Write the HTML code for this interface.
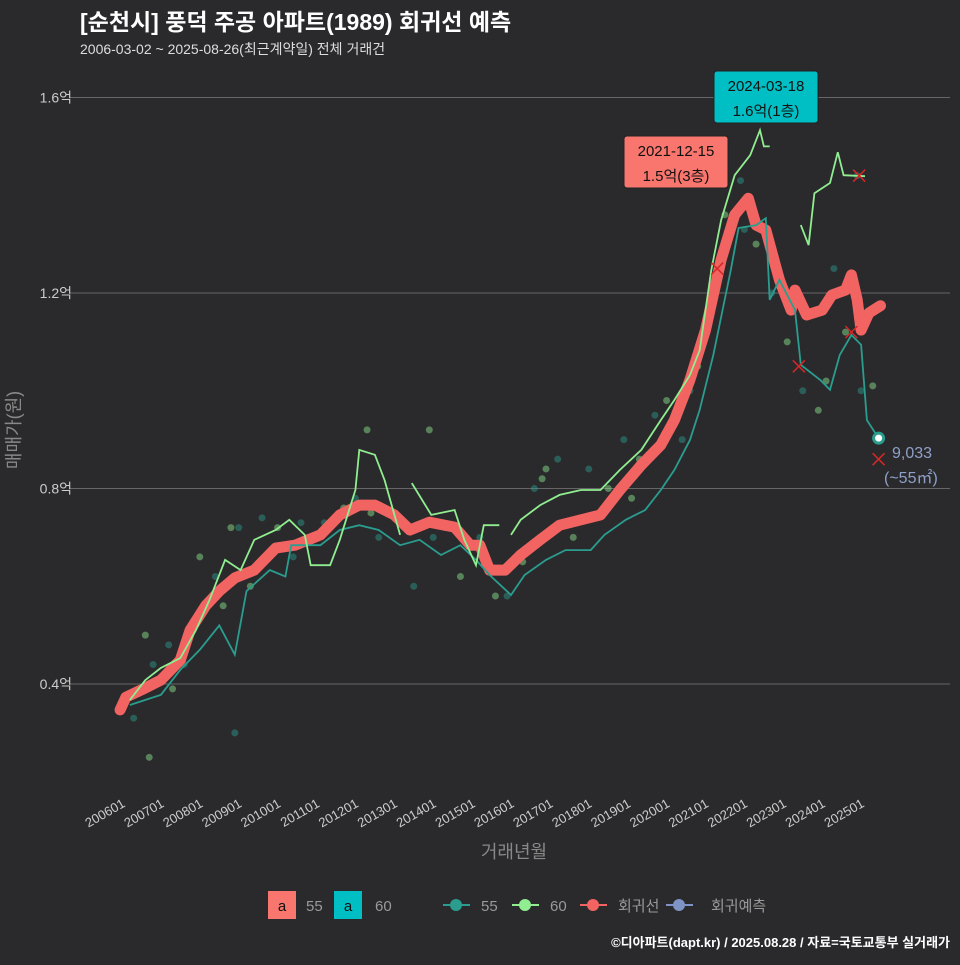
<!DOCTYPE html>
<html><head><meta charset="utf-8">
<style>
body{margin:0;background:#2a2a2c;}
svg text{font-family:"Liberation Sans","Noto Sans CJK KR",sans-serif;}
</style></head>
<body>
<svg id="chart" width="960" height="960" xmlns="http://www.w3.org/2000/svg">
<rect width="960" height="960" fill="#2a2a2c"/>
<text x="80" y="30" fill="#fff" font-size="23" font-weight="bold">[순천시] 풍덕 주공 아파트(1989) 회귀선 예측</text>
<text x="80" y="54" fill="#ddd" font-size="14">2006-03-02 ~ 2025-08-26(최근계약일) 전체 거래건</text>
<g id="grid"></g>
<g id="pts"></g>
<g id="lines"></g>
<g id="marks"></g>
<text transform="translate(20,430) rotate(-90)" text-anchor="middle" fill="#888" font-size="18">매매가(원)</text>
<text x="514" y="858" text-anchor="middle" fill="#888" font-size="18">거래년월</text>
<g>
<rect x="624" y="136" width="104" height="52" rx="3" fill="#f8766d" stroke="#222"/>
<text x="676" y="156" text-anchor="middle" font-size="15" fill="#111">2021-12-15</text>
<text x="676" y="181" text-anchor="middle" font-size="15" fill="#111">1.5억(3층)</text>
</g>
<g>
<rect x="714" y="71" width="104" height="52" rx="3" fill="#00bfc4" stroke="#222"/>
<text x="766" y="91" text-anchor="middle" font-size="15" fill="#111">2024-03-18</text>
<text x="766" y="116" text-anchor="middle" font-size="15" fill="#111">1.6억(1층)</text>
</g>
<text x="892" y="458" fill="#8fa0c8" font-size="16">9,033</text>
<text x="884" y="483" fill="#8fa0c8" font-size="16">(~55㎡)</text>
<g font-size="15">
<rect x="268" y="891" width="28" height="28" fill="#f8766d"/><text x="282" y="911" text-anchor="middle" fill="#111">a</text><text x="306" y="911" fill="#999">55</text>
<rect x="334" y="891" width="28" height="28" fill="#00bfc4"/><text x="348" y="911" text-anchor="middle" fill="#111">a</text><text x="375" y="911" fill="#999">60</text>
<line x1="443" y1="905" x2="470" y2="905" stroke="#2a9d8f" stroke-width="2"/><circle cx="456" cy="905" r="6" fill="#2a9d8f"/><text x="481" y="911" fill="#999">55</text>
<line x1="512" y1="905" x2="539" y2="905" stroke="#90ee90" stroke-width="2"/><circle cx="525" cy="905" r="6" fill="#90ee90"/><text x="550" y="911" fill="#999">60</text>
<line x1="580" y1="905" x2="607" y2="905" stroke="#f26462" stroke-width="2"/><circle cx="593" cy="905" r="6" fill="#f26462"/><text x="618" y="911" fill="#999">회귀선</text>
<line x1="666" y1="905" x2="693" y2="905" stroke="#7f93c7" stroke-width="2"/><circle cx="679" cy="905" r="6" fill="#7f93c7"/><text x="711" y="911" fill="#999">회귀예측</text>
</g>
<text x="950" y="947" text-anchor="end" fill="#fff" font-size="13" font-weight="bold">©디아파트(dapt.kr) / 2025.08.28 / 자료=국토교통부 실거래가</text>
</svg>
<script>
const yTicks=[0.4,0.8,1.2,1.6];
const xTickLabels=["200601","200701","200801","200901","201001","201101","201201","201301","201401","201501","201601","201701","201801","201901","202001","202101","202201","202301","202401","202501"];
const regT=[2005.95,2006.1,2006.5,2007.0,2007.5,2007.75,2008.15,2008.5,2008.9,2009.4,2009.95,2010.45,2011.1,2011.6,2012.1,2012.5,2013.0,2013.4,2013.9,2014.55,2014.95,2015.2,2015.45,2015.85,2016.25,2016.75,2017.25,2017.8,2018.3,2018.8,2019.35,2019.85,2020.2,2020.6,2021.0,2021.4,2021.75,2022.1,2022.3,2022.55,2022.9,2023.2,2023.3,2023.6,2024.0,2024.25,2024.6,2024.75,2024.9,2025.0,2025.2,2025.5];
const regV=[0.347,0.373,0.388,0.408,0.449,0.51,0.56,0.59,0.617,0.633,0.678,0.684,0.705,0.746,0.766,0.766,0.746,0.715,0.731,0.721,0.684,0.684,0.633,0.633,0.664,0.695,0.725,0.736,0.746,0.797,0.848,0.889,0.94,1.022,1.124,1.268,1.36,1.394,1.339,1.329,1.227,1.165,1.206,1.155,1.165,1.196,1.206,1.237,1.186,1.124,1.159,1.174];
const s55T=[2006.2,2007,2007.5,2008,2008.5,2008.9,2009.2,2009.8,2010.2,2010.35,2011.1,2011.6,2012.1,2012.6,2013.15,2013.65,2014.2,2014.7,2015.1,2015.45,2016.0,2016.35,2016.9,2017.4,2018.05,2018.4,2018.95,2019.45,2019.85,2020.2,2020.6,2020.85,2021.2,2021.65,2021.85,2022.3,2022.55,2022.65,2022.9,2023.3,2023.45,2023.95,2024.2,2024.45,2024.75,2025.0,2025.15,2025.45];
const s55V=[0.357,0.378,0.429,0.47,0.52,0.46,0.59,0.633,0.62,0.684,0.684,0.715,0.725,0.715,0.684,0.695,0.664,0.684,0.654,0.623,0.582,0.623,0.654,0.674,0.674,0.705,0.736,0.756,0.797,0.838,0.899,0.961,1.073,1.247,1.333,1.339,1.353,1.186,1.227,1.165,1.053,1.022,1.002,1.073,1.114,1.094,0.94,0.903];
const s60aT=[2006.2,2006.6,2007,2007.5,2007.9,2008.25,2008.65,2009.05,2009.4,2009.95,2010.3,2010.7,2010.85,2011.35,2011.6,2012.0,2012.1,2012.5,2012.75,2013.15];
const s60aV=[0.367,0.408,0.433,0.453,0.51,0.572,0.654,0.633,0.695,0.715,0.736,0.705,0.643,0.643,0.695,0.797,0.879,0.869,0.817,0.705];
const s60bT=[2013.45,2013.95,2014.55,2014.8,2015.1,2015.3,2015.7];
const s60bV=[0.811,0.746,0.756,0.695,0.643,0.725,0.725];
const s60cT=[2016.0,2016.25,2016.75,2017.25,2017.8,2018.3,2018.8,2019.35,2019.85,2020.2,2020.6,2020.85,2021.15,2021.4,2021.75,2022.15,2022.4,2022.5,2022.65];
const s60cV=[0.705,0.736,0.766,0.787,0.797,0.797,0.838,0.879,0.94,0.981,1.032,1.083,1.247,1.349,1.441,1.482,1.533,1.5,1.5];
const s60dT=[2023.45,2023.65,2023.8,2024.2,2024.4,2024.55,2025.1];
const s60dV=[1.339,1.298,1.404,1.425,1.488,1.441,1.439];
const dotT=[2006.3,2006.6,2006.8,2007.3,2007.6,2008.0,2008.4,2008.8,2009.0,2009.3,2009.6,2010.0,2010.4,2010.8,2011.2,2011.7,2012.0,2012.3,2012.6,2013.0,2013.5,2013.9,2014.3,2014.7,2015.2,2015.6,2015.9,2016.3,2016.6,2016.9,2017.2,2017.6,2018.0,2018.5,2018.9,2019.3,2019.7,2020.0,2020.4,2020.8,2021.1,2021.5,2021.9,2022.3,2022.7,2023.1,2023.5,2023.9,2024.3,2024.6,2025.0,2025.3,2008.9,2006.7,2007.2,2008.6,2010.6,2012.4,2014.0,2016.8,2017.9,2019.1,2020.6,2021.3,2022.0,2024.1,2024.9];
const dotV=[0.33,0.5,0.44,0.39,0.44,0.66,0.62,0.72,0.72,0.6,0.74,0.72,0.66,0.7,0.73,0.76,0.78,0.92,0.7,0.74,0.6,0.92,0.72,0.62,0.7,0.58,0.58,0.65,0.8,0.84,0.86,0.7,0.84,0.8,0.9,0.86,0.95,0.98,0.9,1.05,1.15,1.36,1.43,1.3,1.2,1.1,1.0,0.96,1.25,1.12,1.0,1.01,0.3,0.25,0.48,0.56,0.73,0.75,0.7,0.82,0.74,0.78,1.0,1.22,1.33,1.02,1.44];
const xMarkT=[2021.3,2023.4,2024.75,2024.95,2025.45];
const xMarkV=[1.25,1.05,1.12,1.44,0.86];

const NS="http://www.w3.org/2000/svg";
function X(t){return 122+(t-2006)*38.9;}
function Y(v){return 684-(v-0.4)*488.75;}
function mk(tag,attrs,parent){const e=document.createElementNS(NS,tag);for(const k in attrs)e.setAttribute(k,attrs[k]);document.getElementById(parent).appendChild(e);return e;}
yTicks.forEach(v=>{
  const l=mk('line',{x1:70,x2:950,y1:Y(v),y2:Y(v),stroke:'#666','stroke-width':1},'grid');
  
  
  const t=mk('text',{x:72,y:Y(v)+5,'text-anchor':'end',fill:'#ccc','font-size':14},'grid');
  t.textContent=v.toFixed(1)+'억';
  
  
});
xTickLabels.forEach((s,i)=>{
  const x=X(2006+i);
  const t=mk('text',{transform:`translate(${x+4},${806}) rotate(-30)`,'text-anchor':'end',fill:'#ccc','font-size':13},'grid');
  t.textContent=s;
  
  
});
dotT.forEach((t,i)=>{
  const c=mk('circle',{cx:X(t),cy:Y(dotV[i]),r:3.5,fill:i%2?'#90ee90':'#2a9d8f','fill-opacity':0.45},'pts');
  
  
});
function path(T,V){return T.map((t,i)=>(i?'L':'M')+X(t).toFixed(1)+','+Y(V[i]).toFixed(1)).join('');}
const reg=mk('path',{d:path(regT,regV),stroke:'#f26462','stroke-width':11,fill:'none','stroke-linejoin':'round','stroke-linecap':'round'},'lines');


const l55=mk('path',{d:path(s55T,s55V),stroke:'#2a9d8f','stroke-width':1.8,fill:'none'},'lines');


[[s60aT,s60aV],[s60bT,s60bV],[s60cT,s60cV],[s60dT,s60dV]].forEach(([T,V])=>{
  const p=mk('path',{d:path(T,V),stroke:'#90ee90','stroke-width':1.8,fill:'none'},'lines');
  
  
});
xMarkT.forEach((t,i)=>{
  const x=X(t),y=Y(xMarkV[i]);
  const p=mk('path',{d:`M${x-6},${y-6}L${x+6},${y+6}M${x+6},${y-6}L${x-6},${y+6}`,stroke:'#d62728','stroke-width':1.5},'marks');
  
  
});
const last=mk('circle',{cx:X(s55T[s55T.length-1]),cy:Y(s55V[s55V.length-1]),r:5,fill:'#fff',stroke:'#2a9d8f','stroke-width':3},'marks');


</script>
</body></html>
